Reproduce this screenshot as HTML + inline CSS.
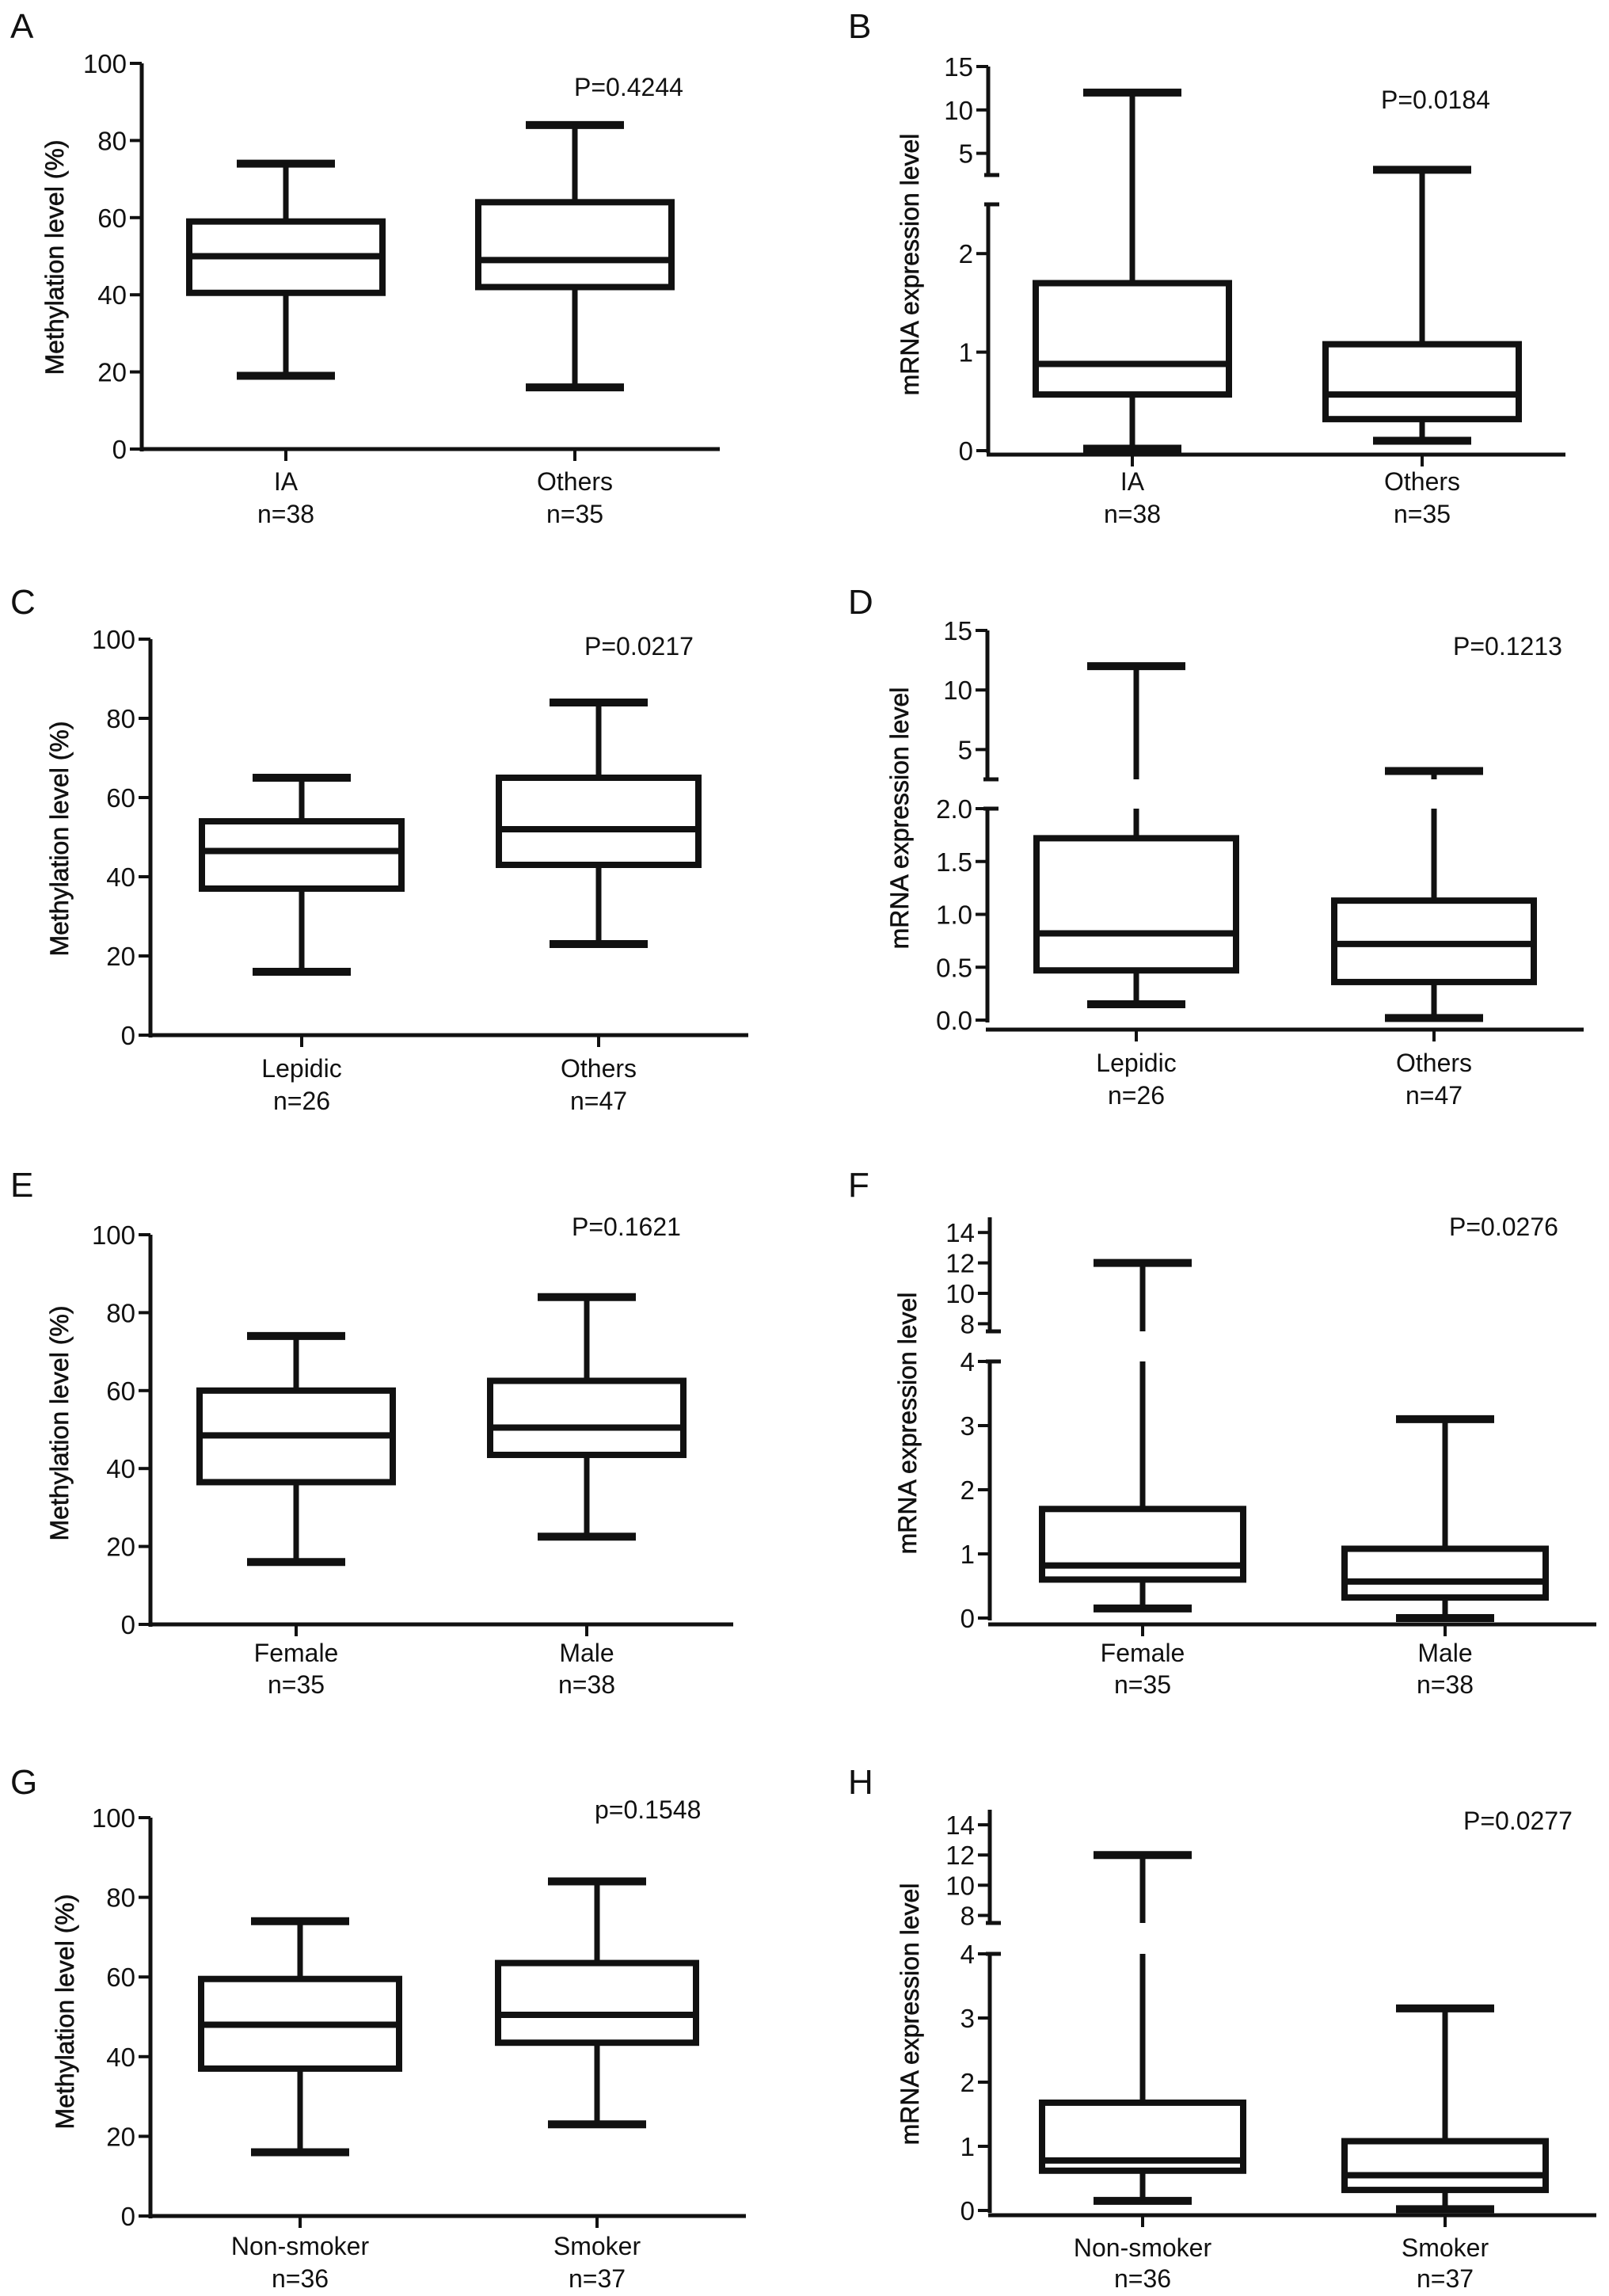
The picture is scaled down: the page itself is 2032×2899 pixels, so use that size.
<!DOCTYPE html>
<html><head><meta charset="utf-8"><style>
html,body{margin:0;padding:0;background:#fff;}
svg{display:block;}
text{font-family:"Liberation Sans",Arial,sans-serif;fill:#111;}
</style></head><body>
<svg id="fig" width="2032" height="2899" viewBox="0 0 2032 2899" xmlns="http://www.w3.org/2000/svg"></svg>
<script>
// ---- data ----
const catsA=["IA","Others"]; const nA=["n=38","n=35"];
const minA=[19,16]; const q1A=[40.5,42]; const medA=[50,49]; const q3A=[59,64]; const maxA=[74,84];
const catsB=["IA","Others"]; const nB=["n=38","n=35"];
const minB=[0.02,0.1]; const q1B=[0.57,0.32]; const medB=[0.88,0.57]; const q3B=[1.7,1.08]; const maxB=[12,3.1];
const catsC=["Lepidic","Others"]; const nC=["n=26","n=47"];
const minC=[16,23]; const q1C=[37,43]; const medC=[46.5,52]; const q3C=[54,65]; const maxC=[65,84];
const catsD=["Lepidic","Others"]; const nD=["n=26","n=47"];
const minD=[0.15,0.02]; const q1D=[0.47,0.36]; const medD=[0.82,0.72]; const q3D=[1.72,1.13]; const maxD=[12,3.2];
const catsE=["Female","Male"]; const nE=["n=35","n=38"];
const minE=[16,22.5]; const q1E=[36.5,43.5]; const medE=[48.5,50.5]; const q3E=[60,62.5]; const maxE=[74,84];
const catsF=["Female","Male"]; const nF=["n=35","n=38"];
const minF=[0.15,0.0]; const q1F=[0.6,0.32]; const medF=[0.82,0.57]; const q3F=[1.7,1.08]; const maxF=[12,3.1];
const catsG=["Non-smoker","Smoker"]; const nG=["n=36","n=37"];
const minG=[16,23]; const q1G=[37,43.5]; const medG=[48,50.5]; const q3G=[59.5,63.5]; const maxG=[74,84];
const catsH=["Non-smoker","Smoker"]; const nH=["n=36","n=37"];
const minH=[0.15,0.02]; const q1H=[0.62,0.32]; const medH=[0.78,0.55]; const q3H=[1.68,1.08]; const maxH=[12,3.15];
const pvals=["P=0.4244","P=0.0184","P=0.0217","P=0.1213","P=0.1621","P=0.0276","p=0.1548","P=0.0277"];
const ticksMeth=[0,20,40,60,80,100];
const ticksB_lo=[0,1,2]; const ticksB_hi=[5,10,15];
const ticksD_lo=[0,0.5,1,1.5,2]; const ticksD_hi=[5,10,15];
const ticksF_lo=[0,1,2,3,4]; const ticksF_hi=[8,10,12,14];

const NS="http://www.w3.org/2000/svg";
const svg=document.getElementById('fig');
function mk(tag,attrs,parent){const e=document.createElementNS(NS,tag);for(const k in attrs)e.setAttribute(k,attrs[k]);(parent||svg).appendChild(e);return e;}
function line(g,x1,y1,x2,y2,w){return mk('line',{x1:x1,y1:y1,x2:x2,y2:y2,stroke:'#111','stroke-width':w,'stroke-linecap':'butt'},g);}
function txt(g,x,y,s,size,anchor){const t=mk('text',{x:x,y:y,'font-size':size,'text-anchor':anchor||'start'},g);t.textContent=s;return t;}

function panel(c){
  const g=mk('g',{});
  
  
  const segs=c.segs;
  function yOf(v){for(const s of segs){if(v>=s.v0-1e-9&&v<=s.v1+1e-9)return s.y0+(v-s.v0)*(s.y1-s.y0)/(s.v1-s.v0);}
    const s=segs[segs.length-1];return s.y0+(v-s.v0)*(s.y1-s.y0)/(s.v1-s.v0);}
  function vline(x,a,b,w){for(const s of segs){const lo=Math.max(a,s.v0),hi=Math.min(b,s.v1);if(hi>lo)line(g,x,yOf(lo),x,yOf(hi),w);}}
  const L=txt(g,c.lx,c.ly,c.letter,44);
  
  
  segs.forEach((s,i)=>{const ax=line(g,c.ax,s.y0+(i==0?3:0),c.ax,s.y1,5);
    
    });
  if(segs.length>1){
    line(g,c.ax-5,segs[0].y1,c.ax+14,segs[0].y1,5);
    line(g,c.ax-5,segs[1].y0,c.ax+14,segs[1].y0,5);
  }
  c.ticks.forEach(tk=>{const y=yOf(tk.v);line(g,c.ax-15,y,c.ax,y,4);
    const t=txt(g,c.ax-19,y+12,tk.label,33,'end');
    
    });
  const xa=line(g,c.ax-2,c.xay,c.xend,c.xay,5);
  
  
  const yt=mk('text',{x:0,y:0,'font-size':32,'text-anchor':'middle',stroke:'#111','stroke-width':0.6,transform:`translate(${c.tx+2},${c.ty}) rotate(-90)`},g);
  yt.textContent=c.title;
  
  
  const pv=txt(g,c.px,c.py,c.p,32);
  
  
  for(let i=0;i<c.cats.length;i++){
    const cx=c.cx[i],hw=c.hw;
    const bg=mk('g',{},g);
    
    
    vline(cx,c.mn[i],c.q1[i],7);
    vline(cx,c.q3[i],c.mx[i],7);
    line(bg,cx-62,yOf(c.mn[i]),cx+62,yOf(c.mn[i]),10);
    line(bg,cx-62,yOf(c.mx[i]),cx+62,yOf(c.mx[i]),10);
    const yt3=yOf(c.q3[i]),yt1=yOf(c.q1[i]);
    mk('rect',{x:cx-hw,y:yt3,width:2*hw,height:yt1-yt3,fill:'#fff',stroke:'#111','stroke-width':8},bg);
    line(bg,cx-hw,yOf(c.md[i]),cx+hw,yOf(c.md[i]),8);
    line(g,cx,c.xay,cx,c.xay+15,4);
    const cl=txt(g,cx,c.lb1,c.cats[i],32,'middle');
    
    
    const nl=txt(g,cx,c.lb2,c.ns[i],32,'middle');
    
    
  }
}
const meth=ticksMeth.map(v=>({v:v,label:String(v)}));
function tl(arr,fix){return arr.map(v=>({v:v,label:fix?v.toFixed(1):String(v)}));}

panel({letter:'A',lx:13,ly:48,ax:179,xay:567,xend:909,segs:[{v0:0,v1:100,y0:567,y1:80}],ticks:meth,
 title:'Methylation level (%)',tx:78,ty:325,p:pvals[0],px:725,py:121,cats:catsA,ns:nA,cx:[361,726],hw:122,
 mn:minA,q1:q1A,md:medA,q3:q3A,mx:maxA,lb1:619,lb2:660});
panel({letter:'B',lx:1071,ly:48,ax:1248,xay:574,xend:1977,segs:[{v0:0,v1:2.5,y0:569,y1:258},{v0:2.5,v1:15,y0:221,y1:84}],
 ticks:tl(ticksB_lo).concat(tl(ticksB_hi)),title:'mRNA expression level',tx:1158,ty:334,p:pvals[1],px:1744,py:137,
 cats:catsB,ns:nB,cx:[1430,1796],hw:122,mn:minB,q1:q1B,md:medB,q3:q3B,mx:maxB,lb1:619,lb2:660});
panel({letter:'C',lx:13,ly:775,ax:190,xay:1307,xend:945,segs:[{v0:0,v1:100,y0:1307,y1:807}],ticks:meth,
 title:'Methylation level (%)',tx:84,ty:1059,p:pvals[2],px:738,py:827,cats:catsC,ns:nC,cx:[381,756],hw:126,
 mn:minC,q1:q1C,md:medC,q3:q3C,mx:maxC,lb1:1360,lb2:1401});
panel({letter:'D',lx:1071,ly:775,ax:1247,xay:1300,xend:2000,segs:[{v0:0,v1:2,y0:1288,y1:1021},{v0:2.5,v1:15,y0:984,y1:796}],
 ticks:tl(ticksD_lo,true).concat(tl(ticksD_hi)),title:'mRNA expression level',tx:1145,ty:1033,p:pvals[3],px:1835,py:827,
 cats:catsD,ns:nD,cx:[1435,1811],hw:126,mn:minD,q1:q1D,md:medD,q3:q3D,mx:maxD,lb1:1353,lb2:1394});
panel({letter:'E',lx:13,ly:1511,ax:190,xay:2051,xend:926,segs:[{v0:0,v1:100,y0:2051,y1:1559}],ticks:meth,
 title:'Methylation level (%)',tx:84,ty:1797,p:pvals[4],px:722,py:1560,cats:catsE,ns:nE,cx:[374,741],hw:122,
 mn:minE,q1:q1E,md:medE,q3:q3E,mx:maxE,lb1:2098,lb2:2138});
panel({letter:'F',lx:1071,ly:1511,ax:1250,xay:2051,xend:2016,segs:[{v0:0,v1:4,y0:2043,y1:1719},{v0:7.5,v1:15,y0:1681,y1:1537}],
 ticks:tl(ticksF_lo).concat(tl(ticksF_hi)),title:'mRNA expression level',tx:1155,ty:1797,p:pvals[5],px:1830,py:1560,
 cats:catsF,ns:nF,cx:[1443,1825],hw:127,mn:minF,q1:q1F,md:medF,q3:q3F,mx:maxF,lb1:2098,lb2:2138});
panel({letter:'G',lx:13,ly:2265,ax:190,xay:2798,xend:942,segs:[{v0:0,v1:100,y0:2798,y1:2295}],ticks:meth,
 title:'Methylation level (%)',tx:91,ty:2540,p:pvals[6],px:751,py:2296,cats:catsG,ns:nG,cx:[379,754],hw:125,
 mn:minG,q1:q1G,md:medG,q3:q3G,mx:maxG,lb1:2847,lb2:2888});
panel({letter:'H',lx:1071,ly:2265,ax:1250,xay:2797,xend:2016,segs:[{v0:0,v1:4,y0:2791,y1:2467},{v0:7.5,v1:15,y0:2428,y1:2285}],
 ticks:tl(ticksF_lo).concat(tl(ticksF_hi)),title:'mRNA expression level',tx:1158,ty:2543,p:pvals[7],px:1848,py:2310,
 cats:catsH,ns:nH,cx:[1443,1825],hw:127,mn:minH,q1:q1H,md:medH,q3:q3H,mx:maxH,lb1:2849,lb2:2888});
</script>
</body></html>
